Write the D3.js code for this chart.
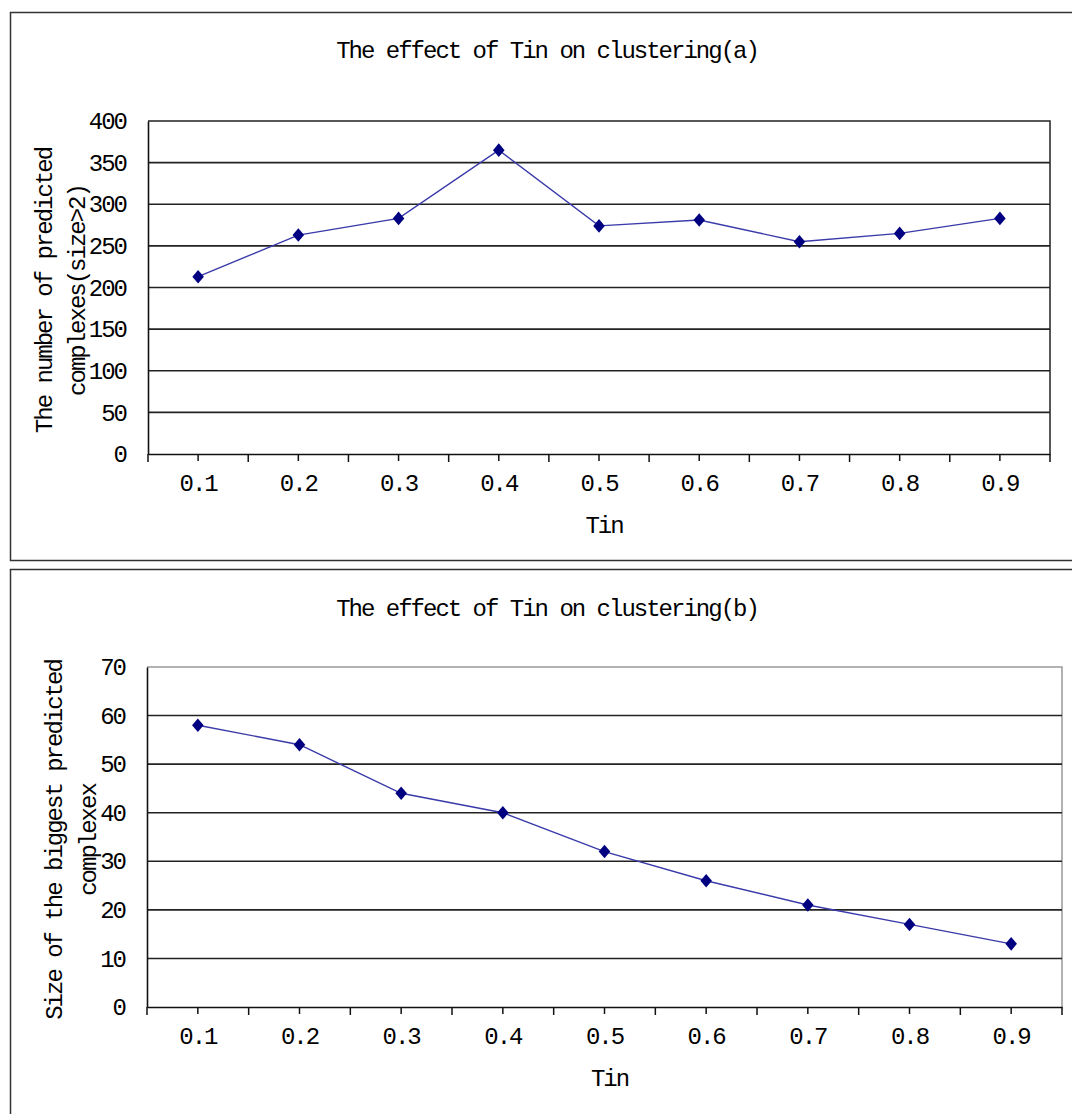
<!DOCTYPE html>
<html>
<head>
<meta charset="utf-8">
<script src="https://cdn.jsdelivr.net/npm/d3@7"></script>
<style>
  body { margin: 0; background: #fff; }
  svg text {
    font-family: "Liberation Mono", monospace;
    font-size: 24px;
    letter-spacing: -2px;
    fill: #000;
  }
</style>
</head>
<body>
<div id="container"></div>
<script>
"use strict";

// Data.
const tinValues = ["0.1", "0.2", "0.3", "0.4", "0.5", "0.6", "0.7", "0.8", "0.9"];
const complexCounts = [213, 263, 283, 365, 274, 281, 255, 265, 283];
const biggestSizes = [58, 54, 44, 40, 32, 26, 21, 17, 13];
const countTicks = [0, 50, 100, 150, 200, 250, 300, 350, 400];
const sizeTicks = [0, 10, 20, 30, 40, 50, 60, 70];

const titleA = "The effect of Tin on clustering(a)";
const titleB = "The effect of Tin on clustering(b)";
const yTitleA = ["The number of predicted", "complexes(size>2)"];
const yTitleB = ["Size of the biggest predicted", "complexex"];
const xTitle = "Tin";

const W = 1072;
const H = 1114;

const svg = d3.select("#container")
  .append("svg")
  .attr("width", W)
  .attr("height", H);

// Diamond a bit wider than d3's own.
const diamond = {
  draw(ctx, size) {
    const h = Math.sqrt(size) * 0.5;
    const w = h * 0.85;
    ctx.moveTo(0, -h);
    ctx.lineTo(w, 0);
    ctx.lineTo(0, h);
    ctx.lineTo(-w, 0);
    ctx.closePath();
  },
};

function drawChart(c) {
  const g = svg.append("g");

  // Outer frame (runs off the right side of the picture).
  g.append("rect")
    .attr("x", 10.5)
    .attr("y", c.frameTop + 0.5)
    .attr("width", 1200)
    .attr("height", c.frameHeight)
    .attr("fill", "none")
    .attr("stroke", "#333")
    .attr("stroke-width", 1.5);

  const x = d3.scaleBand().domain(tinValues).range([c.left, c.right]);
  const y = d3.scaleLinear().domain([0, d3.max(c.ticks)]).range([c.bottom, c.top]);

  // Plot border (top and right).
  g.append("path")
    .attr("d", `M${c.left},${c.top}H${c.right}V${c.bottom}`)
    .attr("fill", "none")
    .attr("stroke", c.borderColor)
    .attr("stroke-width", 1.5);

  // Gridlines.
  g.append("g")
    .selectAll("line")
    .data(c.ticks.filter((t) => t > 0 && t < d3.max(c.ticks)))
    .join("line")
    .attr("x1", c.left)
    .attr("x2", c.right)
    .attr("y1", (d) => y(d))
    .attr("y2", (d) => y(d))
    .attr("stroke", "#222")
    .attr("stroke-width", 1.6);

  // y-axis.
  const yg = g.append("g")
    .attr("transform", `translate(${c.left},0)`)
    .call(d3.axisLeft(y).tickValues(c.ticks).tickSize(0).tickPadding(22));
  yg.select(".domain").attr("stroke", "#111").attr("stroke-width", 1.6);
  yg.selectAll("text").attr("fill", null);

  // x-axis: ticks at the category centres and at the category edges.
  const xg = g.append("g")
    .attr("transform", `translate(0,${c.bottom})`)
    .call(d3.axisBottom(x).tickSize(7).tickSizeOuter(0));
  xg.select(".domain").attr("stroke", "#111").attr("stroke-width", 1.6);
  xg.selectAll(".tick line").attr("stroke", "#111").attr("stroke-width", 1.5);
  xg.selectAll(".tick text").attr("dy", null).attr("y", 37).attr("fill", null);
  xg.selectAll(".edge")
    .data(tinValues.map((d) => x(d)).concat([c.right]))
    .join("line")
    .attr("class", "edge")
    .attr("x1", (d) => d)
    .attr("x2", (d) => d)
    .attr("y1", 0)
    .attr("y2", 8)
    .attr("stroke", "#111")
    .attr("stroke-width", 1.5);

  const cx = (i) => x(tinValues[i]) + x.bandwidth() / 2;

  // Series line.
  g.append("path")
    .datum(c.values)
    .attr("fill", "none")
    .attr("stroke", "#3a3aaa")
    .attr("stroke-width", 1.4)
    .attr("d", d3.line().x((d, i) => cx(i)).y((d) => y(d)));

  // Markers.
  g.append("g")
    .selectAll("path")
    .data(c.values)
    .join("path")
    .attr("transform", (d, i) => `translate(${cx(i)},${y(d)})`)
    .attr("d", d3.symbol().type(diamond).size(185))
    .attr("fill", "#000080");

  // Title.
  g.append("text")
    .attr("x", c.titleX)
    .attr("y", c.titleY)
    .attr("text-anchor", "middle")
    .text(c.title);

  // x-axis title.
  g.append("text")
    .attr("x", (c.left + c.right) / 2 + 5)
    .attr("y", c.bottom + c.xTitleOffset)
    .attr("text-anchor", "middle")
    .text(xTitle);

  // y-axis title, two lines.
  const yMid = (c.top + c.bottom) / 2 + 3;
  c.yTitle.forEach((line, i) => {
    g.append("text")
      .attr("transform", `translate(${c.yTitleX[i]},${yMid}) rotate(-90)`)
      .attr("text-anchor", "middle")
      .text(line);
  });
}

drawChart({
  frameTop: 12,
  frameHeight: 548,
  left: 148,
  right: 1050,
  top: 121,
  bottom: 454,
  ticks: countTicks,
  values: complexCounts,
  borderColor: "#222",
  title: titleA,
  titleX: 547,
  titleY: 58,
  xTitleOffset: 79,
  yTitle: yTitleA,
  yTitleX: [52, 85],
});

drawChart({
  frameTop: 569,
  frameHeight: 700,
  left: 147,
  right: 1062,
  top: 667,
  bottom: 1007,
  ticks: sizeTicks,
  values: biggestSizes,
  borderColor: "#999",
  title: titleB,
  titleX: 547,
  titleY: 616,
  xTitleOffset: 79,
  yTitle: yTitleB,
  yTitleX: [62, 96],
});
</script>
</body>
</html>
